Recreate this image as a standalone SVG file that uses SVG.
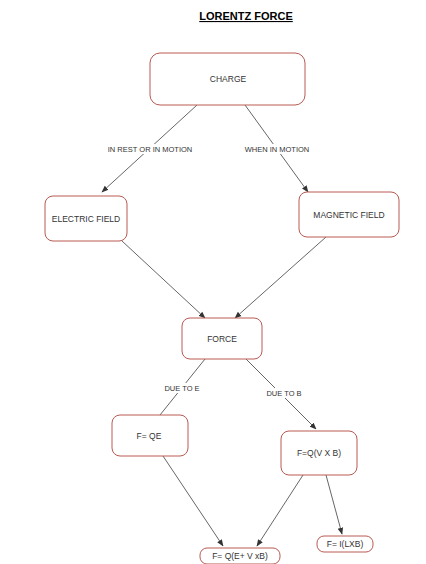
<svg xmlns="http://www.w3.org/2000/svg" width="426" height="564" viewBox="0 0 426 564">
<style>
.box{fill:#fff;stroke:#b85a52;stroke-width:1}
.t{font-family:"Liberation Sans",Arial,sans-serif;font-size:8.5px;fill:#333;text-anchor:middle;dominant-baseline:central}
.lbl{font-family:"Liberation Sans",Arial,sans-serif;font-size:7.5px;fill:#333;text-anchor:middle;dominant-baseline:central}
.e{stroke:#555;stroke-width:0.9;fill:none;marker-end:url(#a)}
.en{stroke:#555;stroke-width:0.9;fill:none}
.bg{fill:#fff}
</style>
<defs>
<marker id="a" viewBox="0 0 10 10" refX="9" refY="5" markerWidth="7" markerHeight="7" orient="auto" markerUnits="userSpaceOnUse">
<path d="M0,1 L10,5 L0,9 z" fill="#333"/>
</marker>
</defs>
<rect width="426" height="564" fill="#fff"/>
<text x="246" y="20" font-family="'Liberation Sans',Arial,sans-serif" font-size="11" font-weight="bold" text-anchor="middle" fill="#000" text-decoration="underline">LORENTZ FORCE</text>
<g id="connectors">
<line class="e" x1="197" y1="105" x2="102" y2="192"/>
<line class="e" x1="245" y1="105" x2="308" y2="192"/>
<line class="e" x1="122" y1="241" x2="205" y2="318"/>
<line class="e" x1="326" y1="237" x2="235" y2="318"/>
<line class="en" x1="205" y1="359" x2="160" y2="415"/>
<line class="e" x1="246" y1="359" x2="316" y2="429"/>
<line class="e" x1="163" y1="456" x2="223" y2="546"/>
<line class="e" x1="303" y1="475" x2="257" y2="546"/>
<line class="e" x1="326" y1="475" x2="342" y2="534"/>
<rect class="bg" x="106" y="144" width="88" height="10"/>
<text class="lbl" x="150" y="149">IN REST OR IN MOTION</text>
<rect class="bg" x="243" y="144" width="68" height="10"/>
<text class="lbl" x="277" y="149">WHEN IN MOTION</text>
<rect class="bg" x="163" y="383" width="38" height="10"/>
<text class="lbl" x="182" y="388">DUE TO E</text>
<rect class="bg" x="264" y="388" width="40" height="10"/>
<text class="lbl" x="284" y="393">DUE TO B</text>
</g>
<g id="charge"><rect class="box" x="150" y="53" width="155" height="52" rx="10"/><text class="t" x="228" y="79">CHARGE</text></g>
<g id="electric"><rect class="box" x="45" y="196" width="82" height="45" rx="8"/><text class="t" x="86" y="219">ELECTRIC FIELD</text></g>
<g id="magnetic"><rect class="box" x="299" y="192" width="100" height="45" rx="8"/><text class="t" x="349" y="215">MAGNETIC FIELD</text></g>
<g id="force"><rect class="box" x="182" y="318" width="80" height="41" rx="8"/><text class="t" x="222" y="339">FORCE</text></g>
<g id="fqe"><rect class="box" x="112" y="415" width="76" height="41" rx="8"/><text class="t" x="149" y="436">F= QE</text></g>
<g id="fqvb"><rect class="box" x="281" y="431" width="76" height="44" rx="8"/><text class="t" x="319" y="453">F=Q(V X B)</text></g>
<g id="fqevb"><rect class="box" x="200" y="548" width="80" height="16" rx="7"/><text class="t" x="240" y="556">F= Q(E+ V xB)</text></g>
<g id="filb"><rect class="box" x="317" y="536" width="56" height="16" rx="7"/><text class="t" x="345" y="544">F= I(LXB)</text></g>
</svg>
